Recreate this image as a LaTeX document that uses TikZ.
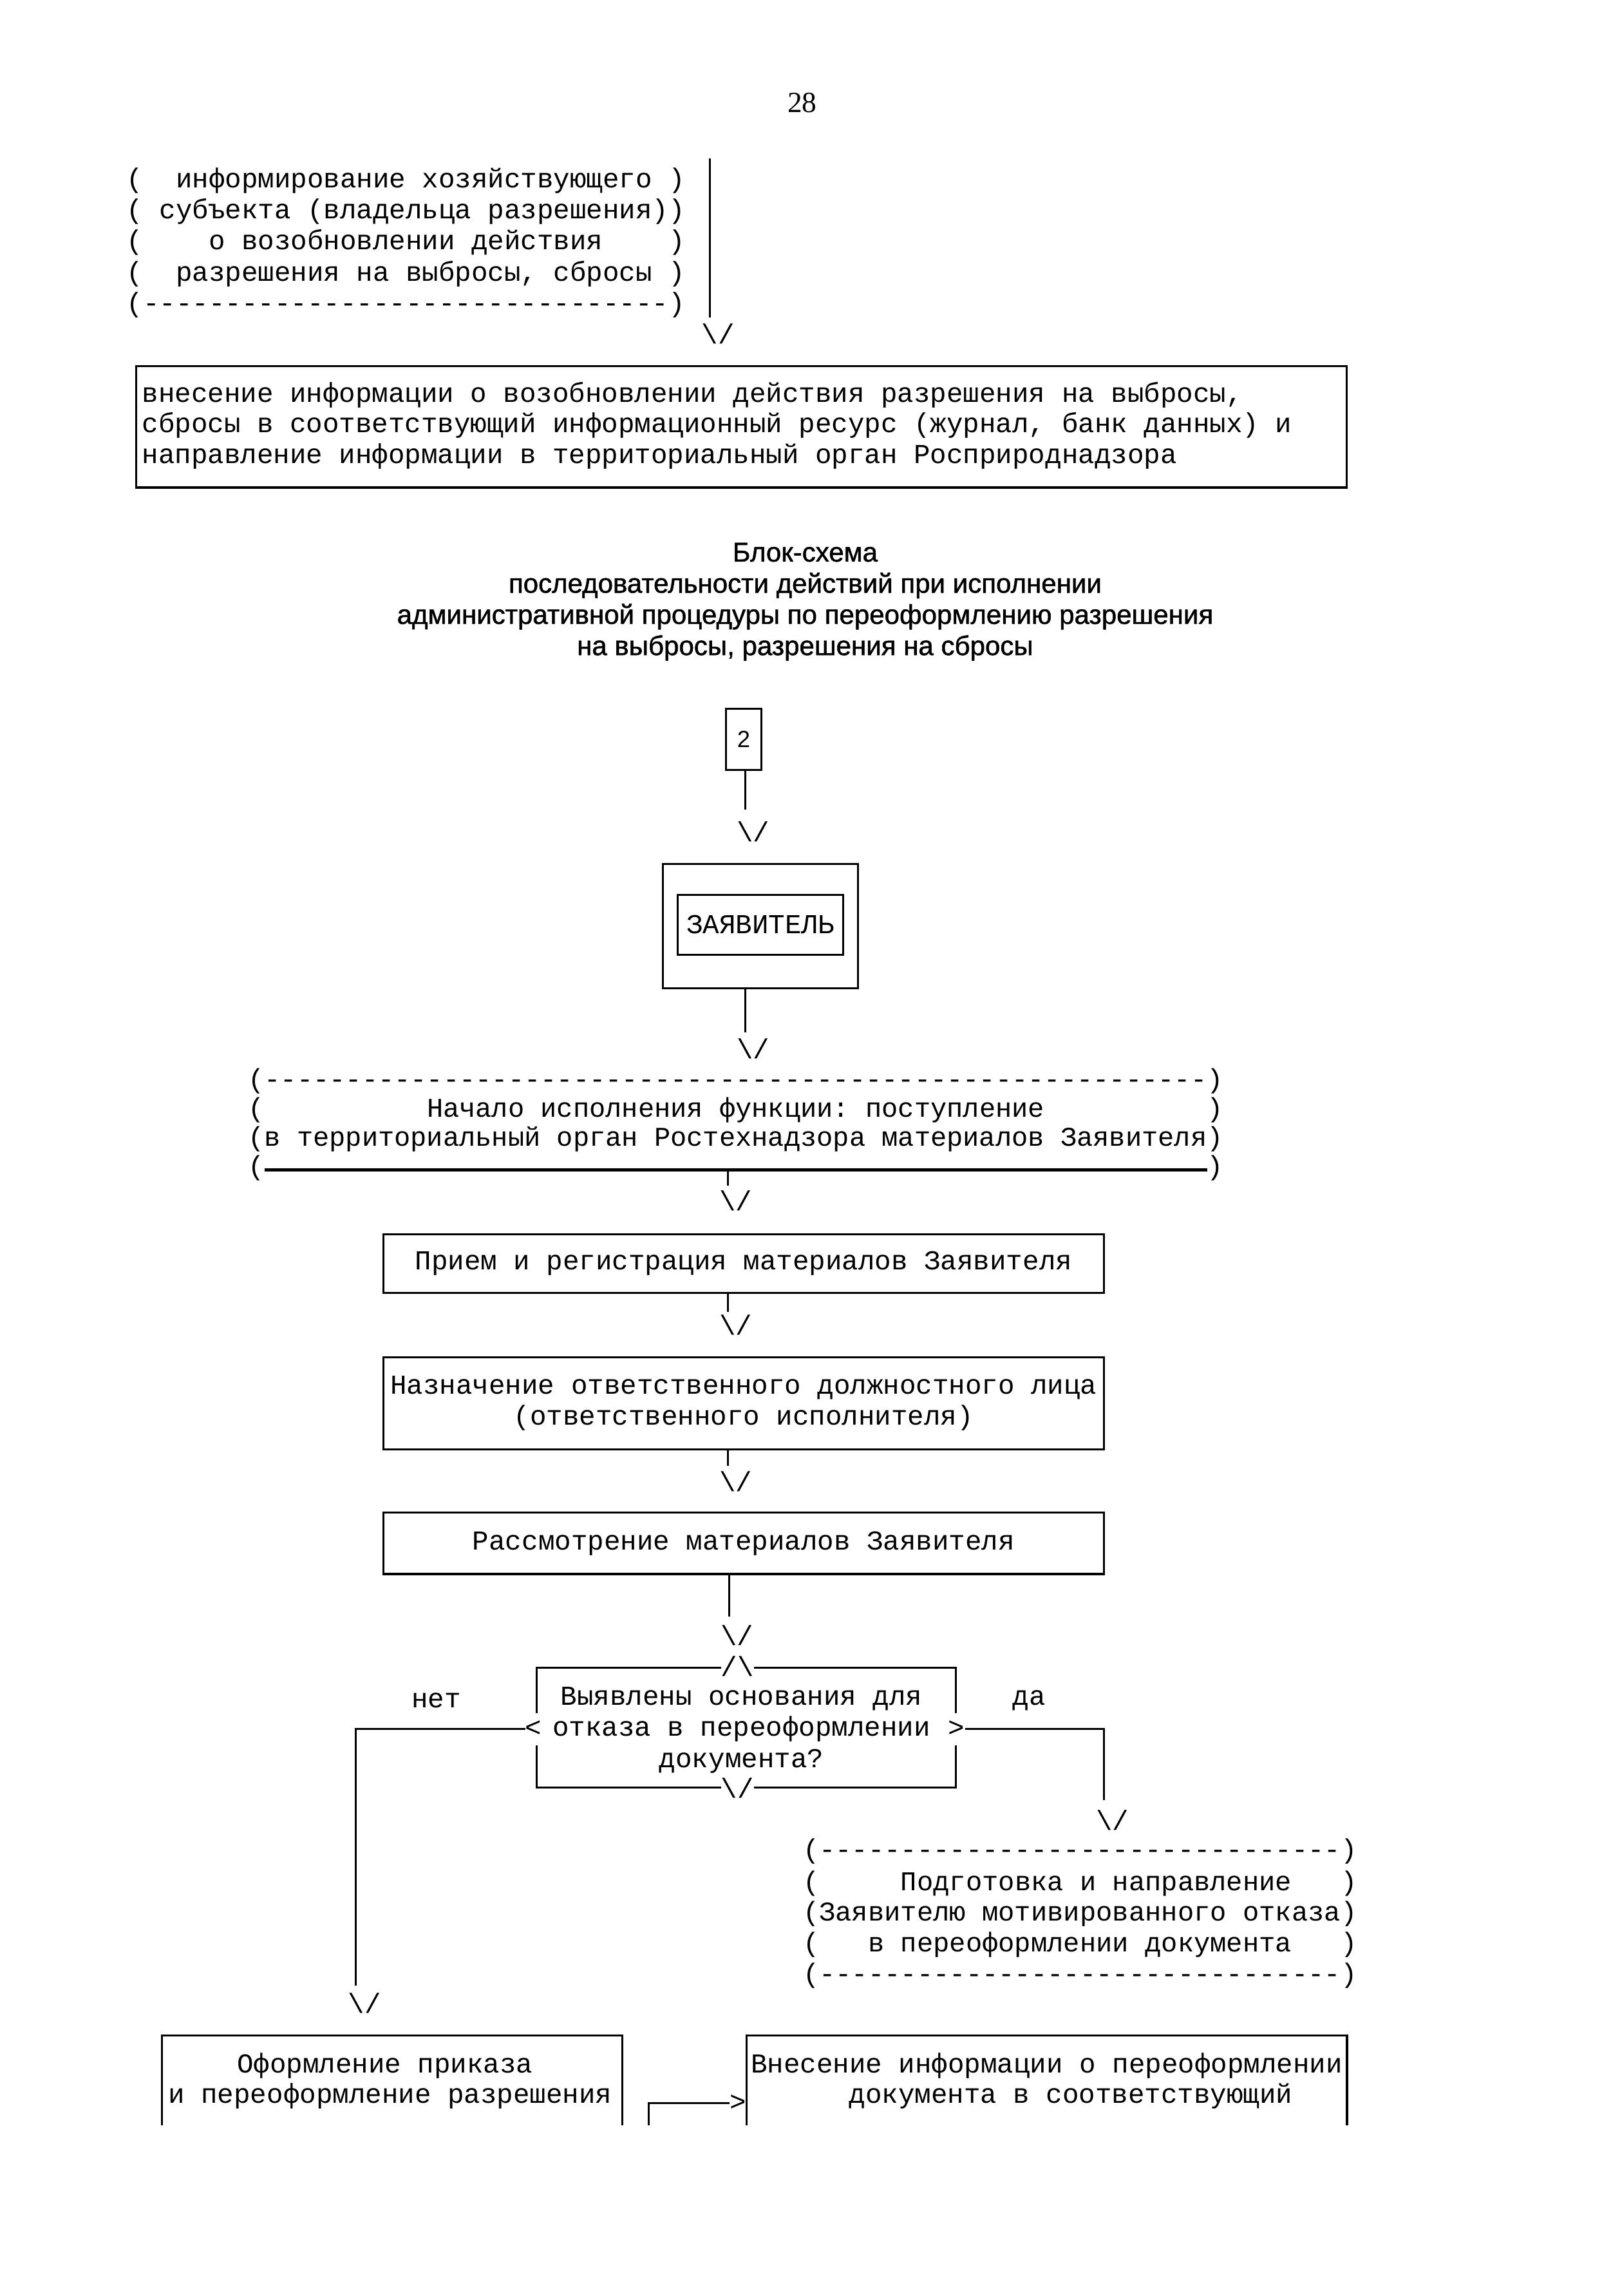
\documentclass[tikz,border=0pt]{standalone}
\usepackage{fontspec}
\setmainfont{Liberation Serif}
\setsansfont{Liberation Sans}
\setmonofont{Liberation Mono}
\newfontfamily\titlefont{Liberation Sans}[FakeBold=1.2]
\ExplSyntaxOn
\cs_new:Npn \myrep #1#2 { \prg_replicate:nn {#1} {#2} }
\ExplSyntaxOff
\newcommand\mysp[1]{\myrep{#1}{~}}
\newcommand\mydash[1]{\myrep{#1}{-}}
\tikzset{
  mono/.style={font=\ttfamily\fontsize{18.7}{21.3}\selectfont, inner sep=0pt, outer sep=0pt},
  ln/.style={mono, anchor=base west},
  ovl/.style={ln, font=\ttfamily\fontsize{18.5}{21}\selectfont},
  rfl/.style={ln, font=\ttfamily\fontsize{18.55}{21}\selectfont},
  frame/.style={draw, line width=1.4pt, inner sep=0pt, outer sep=0pt},
  wire/.style={line width=1.3pt},
  tipv/.style={mono, anchor=center},
}
\begin{document}
\begin{tikzpicture}[x=1pt,y=-1pt,scale=1.0055,every node/.append style={transform shape}]
\useasboundingbox (0,0) rectangle (1093.98,1568.08);
\fill[white] (0,0) rectangle (1093.98,1568.08);

% page number
\node[font=\rmfamily\fontsize{20}{24}\selectfont] (pg) at (548,70) {28};

% top block
\node[ln] (a1) at (86.5,128) {(\mysp{2}информирование хозяйствующего~)};
\node[ln] (a2) at (86.5,149.3) {(~субъекта (владельца разрешения))};
\node[ln] (a3) at (86.5,170.6) {(\mysp{4}о возобновлении действия\mysp{4})};
\node[ln] (a4) at (86.5,191.9) {(\mysp{2}разрешения на выбросы, сбросы~)};
\node[ln] (a5) at (86.5,213.2) {(\mydash{32})};
\coordinate (a0) at (485,108);
\coordinate (a0e) at (485,217);
\draw[wire] (a0) -- (a0e);
\node[tipv] (at1) at (490.6,228) {\textbackslash/};

% box: vnesenie
\node[frame, anchor=north west, minimum width=827, minimum height=83] (vn) at (93,250) {};
\node[ln] (vn1) at (97,274.5) {внесение информации о возобновлении действия разрешения на выбросы,};
\node[ln] (vn2) at (97,295.5) {сбросы в соответствующий информационный ресурс (журнал, банк данных) и};
\node[ln] (vn3) at (97,316.5) {направление информации в территориальный орган Росприроднадзора};

% title
\node[font=\titlefont\fontsize{18.5}{21.3}\selectfont, align=center] (title) at (550,411)
  {Блок-схема\\последовательности действий при исполнении\\административной процедуры по переоформлению разрешения\\на выбросы, разрешения на сбросы};

% box 2
\node[frame, minimum width=24, minimum height=42, font=\sffamily\fontsize{16}{18}\selectfont] (n2) at (508,505) {2};
\coordinate (c2) at (509,553);
\draw[wire] (n2.south -| c2) -- (c2);
\node[tipv] (at2) at (514.6,568) {\textbackslash/};

% applicant
\node[frame, minimum width=133, minimum height=85] (appo) at (519.5,632.5) {};
\node[frame, mono, minimum width=113, minimum height=41] (appi) at (519.5,631.5) {ЗАЯВИТЕЛЬ};
\coordinate (c3) at (509,705);
\draw[wire] (appo.south -| c3) -- (c3);
\node[tipv] (at3) at (514.6,716) {\textbackslash/};

% start oval
\node[ovl] (s1) at (169.5,743) {(\mydash{58})};
\node[ovl] (s2) at (169.5,762.8) {(\mysp{10}Начало исполнения функции: поступление\mysp{10})};
\node[ovl] (s3) at (169.5,782.6) {(в территориальный орган Ростехнадзора материалов Заявителя)};
\node[ovl] (s4l) at (169.5,802.7) {(};
\node[ovl] (s4r) at (824.5,802.7) {)};
\draw[line width=1.8pt] (s4l.east |- 0,799) -- (s4r.west |- 0,799);
\coordinate (c4a) at (497,799);
\coordinate (c4) at (497,809.5);
\draw[wire] (c4a) -- (c4);
\node[tipv] (at4) at (502.6,820) {\textbackslash/};

% process boxes
\node[frame, mono, minimum width=492, minimum height=40] (pr) at (508,863) {Прием и регистрация материалов Заявителя};
\coordinate (c5) at (497,896);
\draw[wire] (pr.south -| c5) -- (c5);
\node[tipv] (at5) at (502.6,905) {\textbackslash/};

\node[frame, mono, minimum width=492, minimum height=63, align=center] (nz) at (508,958.5)
  {Назначение ответственного должностного лица\\(ответственного исполнителя)};
\coordinate (c6) at (497,1001);
\draw[wire] (nz.south -| c6) -- (c6);
\node[tipv] (at6) at (502.6,1012) {\textbackslash/};

\node[frame, mono, minimum width=492, minimum height=42] (rs) at (508,1054) {Рассмотрение материалов Заявителя};
\coordinate (c7) at (498,1104);
\draw[wire] (rs.south -| c7) -- (c7);
\node[tipv] (at7) at (503.6,1117) {\textbackslash/};

% decision
\node[mono, align=center] (dec) at (506.5,1181.5) {Выявлены основания для\\отказа в переоформлении\\документа?};
\node[tipv] (dtop) at (503.8,1138) {/\textbackslash};
\node[tipv] (dbot) at (503.8,1221) {\textbackslash/};
\node[tipv] (dl) at (364.5,1180.4) {<};
\node[tipv] (dr) at (653.5,1180.4) {>};
\draw[wire] (dtop.west |- 0,1139) -| (366.5,1170);
\draw[wire] (366.5,1192) |- (dbot.west |- 0,1221);
\draw[wire] (dtop.east |- 0,1139) -| (653,1170);
\draw[wire] (653,1192) |- (dbot.east |- 0,1221);
\node[mono] (no) at (298,1161.5) {нет};
\node[mono] (yes) at (703,1161.5) {да};

% no branch
\coordinate (nb1) at (243,1180.4);
\coordinate (nb2) at (243,1356);
\draw[wire] (dl.west) -- (nb1) -- (nb2);
\node[tipv] (at8) at (249,1368) {\textbackslash/};

% yes branch
\coordinate (yb1) at (754,1180.4);
\coordinate (yb2) at (754,1229);
\draw[wire] (dr.east) -- (yb1) -- (yb2);
\node[tipv] (at9) at (760,1243) {\textbackslash/};

% refusal oval
\node[rfl] (r1) at (548.5,1269) {(\mydash{32})};
\node[rfl] (r2) at (548.5,1291) {(\mysp{5}Подготовка и направление\mysp{3})};
\node[rfl] (r3) at (548.5,1312) {(Заявителю мотивированного отказа)};
\node[rfl] (r4) at (548.5,1333) {(\mysp{3}в переоформлении документа\mysp{3})};
\node[rfl] (r5) at (548.5,1354) {(\mydash{32})};

% bottom boxes (continued on next page)
\node[minimum width=314.3, minimum height=61, anchor=north west, inner sep=0pt, outer sep=0pt] (lb) at (110.7,1390) {};
\draw[frame] (lb.south west) -- (lb.north west) -- (lb.north east) -- (lb.south east);
\node[ln] (lb1) at (162,1415.5) {Оформление приказа};
\node[ln] (lb2) at (115,1436.5) {и переоформление разрешения};

\node[minimum width=410, minimum height=61, anchor=north west, inner sep=0pt, outer sep=0pt] (rb) at (510,1390) {};
\draw[frame] (rb.south west) -- (rb.north west) -- (rb.north east) -- (rb.south east);
\node[ln] (rb1) at (513,1415.5) {Внесение информации о переоформлении};
\node[ln] (rb2) at (580,1436.5) {документа в соответствующий};

\coordinate (bin) at (443,1451);
\coordinate (bc) at (443,1436);
\node[tipv] (bt) at (504,1436) {>};
\draw[wire] (bin) -- (bc) -- (bt.west |- bc);
\end{tikzpicture}
\end{document}
